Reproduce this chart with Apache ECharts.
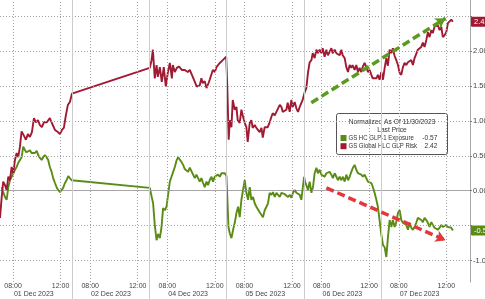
<!DOCTYPE html>
<html><head><meta charset="utf-8">
<script src="https://cdn.jsdelivr.net/npm/echarts@6/dist/echarts.min.js"></script>
<style>html,body{margin:0;padding:0;background:#fff}#c{width:485px;height:299px}</style>
</head><body><div id="c"></div>
<script>
// ---- data (time = trading hours on compressed session axis, 06:30-13:00 per day) ----
const days = ['01 Dec 2023','02 Dec 2023','04 Dec 2023','05 Dec 2023','06 Dec 2023','07 Dec 2023'];
const timeLabels = ['08:00','12:00'];
const yTickValues = [-1,-0.5,0,0.5,1,1.5,2,2.5];
const yLabelValues = [-1,0,0.5,1,1.5,2];
const legendTitle = 'Normalized As Of 11/30/2023';
const legendSub = 'Last Price';
const greenName = 'GS HC GLP-1 Exposure';
const redName = 'GS Global HLC GLP Risk';

const redTime = [
 0.40,0.54,0.67,0.82,0.96,1.10,1.24,1.38,1.52,1.66,
 1.80,1.94,2.08,2.22,2.36,2.50,2.58,2.75,2.92,3.09,
 3.26,3.43,3.60,3.76,3.93,4.10,4.35,4.60,4.77,5.03,
 5.28,5.45,5.62,5.78,5.95,6.12,6.29,6.46,
 13.02,13.17,13.28,13.44,13.59,13.70,13.87,14.03,14.20,14.37,
 14.54,14.71,14.88,14.96,15.13,15.30,15.47,15.72,15.97,16.22,
 16.39,16.64,16.98,17.23,17.37,17.48,17.65,17.80,17.99,18.07,
 18.33,18.50,18.64,18.92,19.17,19.30,19.46,
 19.55,19.67,19.76,19.90,20.01,20.18,20.32,20.43,20.60,20.74,
 20.85,21.02,21.16,21.27,21.44,21.58,21.69,21.86,22.00,22.12,
 22.28,22.43,22.54,22.70,22.85,22.96,23.12,23.27,23.38,23.55,
 23.69,23.80,23.97,24.11,24.22,24.53,24.64,24.81,24.95,25.06,
 25.23,25.37,25.51,25.65,25.79,25.90,
 26.07,26.21,26.35,26.49,26.64,26.75,26.91,27.06,27.19,27.33,
 27.48,27.59,27.75,27.90,28.03,28.17,28.32,28.43,28.60,28.74,
 28.87,29.02,29.16,29.27,29.44,29.58,29.72,29.86,30.00,30.11,
 30.28,30.42,30.56,30.70,30.84,30.95,31.12,31.26,31.40,31.54,
 31.69,31.80,31.96,32.11,32.24,32.38,
 32.53,32.67,32.81,32.95,33.08,33.23,33.37,33.50,33.65,33.79,
 33.93,34.07,34.21,34.35,34.49,34.63,34.77,34.91,35.05,35.19,
 35.33,35.47,35.61,35.75,35.89,36.03,36.17,36.32,36.45,36.59,
 36.74,36.87,37.01,37.16,37.29,37.44,37.58,37.71,37.86,38.00,
 38.14,38.28,38.42,38.56
];
const redValue = [
 -0.39,-0.10,0.13,0.08,0.01,0.20,0.15,0.34,0.25,0.44,
 0.54,0.48,0.63,0.85,0.83,0.76,0.73,0.81,0.77,0.84,
 1.04,0.98,1.01,0.94,0.91,0.98,0.98,1.04,0.97,0.87,
 0.84,0.81,0.87,0.90,1.08,1.23,1.27,1.39,
 1.76,1.87,2.02,1.61,1.80,1.63,1.77,1.56,1.77,1.49,
 1.69,1.83,1.61,1.80,1.70,1.76,1.78,1.73,1.73,1.70,
 1.73,1.63,1.49,1.51,1.61,1.54,1.57,1.47,1.55,1.59,
 1.73,1.70,1.77,1.83,1.87,1.85,1.92,
 1.49,0.73,1.01,0.91,1.30,1.16,1.20,1.01,0.97,1.16,
 1.08,0.97,0.91,0.70,0.97,1.01,0.90,0.94,0.90,0.91,
 0.84,0.90,0.76,0.91,0.90,0.91,0.98,1.06,1.11,1.08,
 1.13,1.11,1.23,1.20,1.13,1.16,1.26,1.13,1.30,1.20,
 1.27,1.18,1.13,1.20,1.20,1.30,
 1.41,1.47,1.69,1.84,1.87,1.97,1.90,2.02,1.97,2.02,
 1.97,2.04,1.92,2.02,1.94,1.99,2.04,1.97,2.02,1.97,
 1.99,1.94,2.02,1.94,1.90,1.77,1.70,1.80,1.76,1.80,
 1.73,1.80,1.70,1.76,1.70,1.77,1.83,1.77,1.70,1.73,
 1.66,1.61,1.63,1.61,1.66,1.59,
 1.70,1.59,1.76,1.90,1.79,2.02,1.97,2.04,1.93,1.87,
 1.80,1.69,1.66,1.77,1.83,1.80,1.84,1.83,1.87,1.80,
 1.90,1.92,2.02,2.04,2.06,2.12,2.06,2.16,2.27,2.20,
 2.30,2.26,2.35,2.33,2.37,2.30,2.35,2.20,2.23,2.27,
 2.40,2.42,2.45,2.42
];
const greenTime = [
 0.54,0.67,0.82,0.96,1.10,1.24,1.38,1.52,1.66,1.80,
 1.94,2.08,2.22,2.36,2.50,2.64,2.78,2.92,3.06,3.20,
 3.34,3.49,3.62,3.76,3.91,4.04,4.18,4.33,4.46,4.60,
 4.75,4.88,5.03,5.17,5.30,5.45,5.59,5.72,5.87,6.01,
 6.15,6.29,6.43,
 13.02,13.17,13.30,13.44,13.59,13.72,13.87,14.01,14.14,14.29,
 14.43,14.56,14.71,14.85,14.99,15.13,15.27,15.41,15.55,15.69,
 15.83,15.97,16.11,16.25,16.39,16.53,16.67,16.81,16.95,17.09,
 17.23,17.37,17.51,17.65,17.80,17.93,18.07,18.22,18.35,18.49,
 18.64,18.77,18.92,19.06,19.19,19.34,19.48,
 19.56,19.65,19.76,19.90,20.04,20.18,20.32,20.46,20.60,20.74,
 20.88,21.02,21.16,21.30,21.44,21.58,21.72,21.86,22.00,22.14,
 22.28,22.43,22.56,22.70,22.85,22.98,23.12,23.27,23.40,23.55,
 23.69,23.82,23.97,24.11,24.25,24.39,24.53,24.67,24.81,24.95,
 25.09,25.23,25.37,25.51,25.65,25.79,
 26.02,26.10,26.21,26.35,26.49,26.64,26.77,26.91,27.06,27.19,
 27.33,27.48,27.61,27.75,27.90,28.03,28.17,28.32,28.45,28.60,
 28.74,28.87,29.02,29.16,29.29,29.44,29.58,29.72,29.86,30.00,
 30.14,30.28,30.42,30.56,30.70,30.84,30.98,31.12,31.26,31.40,
 31.54,31.69,31.82,31.96,32.11,32.24,32.38,
 32.53,32.67,32.81,32.95,33.08,33.23,33.37,33.50,33.65,33.79,
 33.93,34.07,34.21,34.35,34.49,34.63,34.77,34.91,35.05,35.19,
 35.33,35.47,35.61,35.75,35.89,36.03,36.17,36.32,36.45,36.59,
 36.74,36.87,37.01,37.16,37.29,37.44,37.58,37.71,37.86,38.00,
 38.14,38.28,38.42,38.56
];
const greenValue = [
 0.05,-0.02,-0.09,-0.13,0.05,0.15,0.13,0.25,0.30,0.34,
 0.40,0.44,0.48,0.63,0.58,0.55,0.54,0.58,0.54,0.55,
 0.54,0.57,0.51,0.47,0.44,0.48,0.51,0.48,0.44,0.34,
 0.27,0.18,0.11,0.05,0.01,-0.02,-0.03,0.04,0.11,0.15,
 0.21,0.20,0.15,
 0.04,-0.08,-0.18,-0.49,-0.71,-0.62,-0.68,-0.52,-0.25,-0.28,
 -0.23,-0.06,0.13,0.20,0.27,0.34,0.43,0.48,0.47,0.41,
 0.37,0.31,0.33,0.27,0.33,0.28,0.27,0.18,0.23,0.25,
 0.13,0.18,0.11,0.05,0.13,0.08,0.15,0.20,0.13,0.20,
 0.18,0.23,0.20,0.25,0.23,0.25,0.21,
 -0.13,-0.52,-0.61,-0.68,-0.56,-0.46,-0.32,-0.23,-0.38,-0.13,
 0.01,0.15,-0.03,-0.13,0.05,-0.13,-0.09,-0.18,-0.23,-0.25,
 -0.31,-0.32,-0.38,-0.28,-0.23,-0.18,-0.03,-0.06,-0.02,-0.09,
 -0.03,-0.02,-0.09,-0.03,-0.02,-0.05,-0.03,-0.09,-0.06,-0.10,
 -0.03,0.01,-0.03,-0.02,-0.06,-0.13,
 0.20,0.13,0.08,0.01,0.13,-0.03,0.05,0.25,0.33,0.25,
 0.30,0.23,0.25,0.20,0.25,0.23,0.27,0.23,0.18,0.25,
 0.20,0.15,0.20,0.15,0.20,0.13,0.23,0.15,0.20,0.27,
 0.33,0.37,0.30,0.25,0.27,0.23,0.20,0.23,0.18,0.13,
 0.15,0.11,0.05,-0.03,-0.13,-0.23,-0.42,
 -0.63,-0.78,-0.81,-0.95,-0.68,-0.42,-0.52,-0.42,-0.52,-0.45,
 -0.32,-0.28,-0.42,-0.46,-0.45,-0.49,-0.56,-0.46,-0.53,-0.56,
 -0.52,-0.46,-0.39,-0.38,-0.42,-0.45,-0.39,-0.42,-0.46,-0.52,
 -0.45,-0.49,-0.53,-0.52,-0.56,-0.53,-0.49,-0.52,-0.53,-0.49,
 -0.52,-0.52,-0.53,-0.57
];
// trend arrows (annotation), [time, value]
const greenTrendStart = [26.63, 1.26];
const greenTrendEnd = [37.94, 2.47];
const redTrendStart = [27.90, 0.04];
const redTrendEnd = [37.94, -0.71];

// ---- helpers ----
const openHour = 6.5, sessionLen = 6.5;
const pad = n => String(n).padStart(2,'0');
const toAxis = (dayIdx, hhmm) => { const [h,m] = hhmm.split(':').map(Number); return dayIdx*sessionLen + h + m/60 - openHour; };
const timeTickVals = days.flatMap((d,i) => timeLabels.map(s => toAxis(i,s)));
const dayBounds = days.slice(1).map((d,i) => (i+1)*sessionLen);
const dayMids = days.map((d,i) => i*sessionLen + sessionLen/2);
const fmtTime = v => { const di = Math.floor(v/sessionLen + 1e-9); const local = v - di*sessionLen + openHour; const h = Math.floor(local + 1e-6); const m = Math.round((local-h)*60); return pad(h)+':'+pad(m); };
const fmtDay = v => days[Math.round((v - sessionLen/2)/sessionLen)] || '';
const zip = (a,b) => a.map((t,i) => [t, b[i]]);

const RED = '#a11a33', GREEN = '#5a8c15';
const RED_ARROW = '#e2383b', GREEN_ARROW = '#5c9a1f';
const FONT = 'Liberation Sans, Arial, sans-serif';
const redLast = redValue[redValue.length-1];
const greenLast = greenValue[greenValue.length-1];

const chart = echarts.init(document.getElementById('c'), null, {renderer:'canvas'});
const tagLabel = (bg) => ({show:true, position:'end', distance:1, formatter: p => Number(p.value).toFixed(2),
  backgroundColor:bg, color:'#fff', padding:[1,3,1,3], fontSize:7.5, fontFamily:FONT, borderRadius:1});
const HIDDEN = {color:'rgba(0,0,0,0)', width:0};
const DOT = {color:'#a0a0a0', type:[1,2], width:1, opacity:1};
const SOLID = {color:'#cccccc', type:'solid', width:1, opacity:1};

const gridLines = [
  ...yTickValues.map(v => ({yAxis:v, lineStyle:DOT})),
  ...timeTickVals.map(v => ({xAxis:v, lineStyle:DOT})),
  ...dayBounds.map(v => ({xAxis:v, lineStyle:SOLID}))
];
const legendText = (text, x, y, align, sx) => ({type:'text', x, y, scaleX:sx, scaleY:1,
  style:{text, fill:'#333', font:'7px '+FONT, align, verticalAlign:'middle'}});

chart.setOption({
  animation:false,
  backgroundColor:'#fff',
  textStyle:{fontFamily:FONT},
  grid:{left:0, right:15, top:0, bottom:17, containLabel:false, outerBoundsMode:'none'},
  xAxis:[{
    type:'value', min:0.4, max:40, position:'bottom',
    axisLine:{show:true, lineStyle:{color:'#a8a8a8', width:1}},
    axisTick:{show:false},
    axisLabel:{customValues: timeTickVals, formatter: fmtTime, fontSize:7, color:'#444', margin:1, fontFamily:FONT},
    splitLine:{show:false}
  },{
    type:'value', min:0.4, max:40, position:'bottom',
    axisLine:{show:false},
    axisTick:{show:true, customValues: dayBounds, length:17, lineStyle:{color:'#cccccc', width:1}},
    axisLabel:{customValues: dayMids, formatter: fmtDay, fontSize:7, color:'#444', margin:9, fontFamily:FONT},
    splitLine:{show:false}
  }],
  yAxis:{
    type:'value', position:'right', min:-1.308, max:2.732,
    axisLine:{show:true, lineStyle:{color:'#a8a8a8'}},
    axisTick:{show:true, customValues: yTickValues, length:2, lineStyle:{color:'#777'}},
    axisLabel:{customValues: yLabelValues, formatter: v => v.toFixed(2), fontSize:7.5, color:'#444', margin:3, fontFamily:FONT},
    splitLine:{show:false}
  },
  series:[{
    name:'grid', type:'line', data:[[redTime[0], redValue[0]]], symbol:'none', showSymbol:false,
    lineStyle:{color:'#a0a0a0', width:1}, itemStyle:{color:'#a0a0a0'}, z:1, silent:true,
    markLine:{silent:true, symbol:['none','none'], animation:false, label:{show:false}, lineStyle:DOT, data: gridLines}
  },{
    name: greenName, type:'line', data: zip(greenTime, greenValue), showSymbol:false, symbol:'none',
    lineStyle:{color:GREEN, width:1.9}, itemStyle:{color:GREEN}, z:3,
    markLine:{silent:true, symbol:['none','none'], animation:false, data:[
      {yAxis: greenLast, lineStyle:HIDDEN, label: tagLabel(GREEN)},
      [{coord: greenTrendStart, symbol:'none', lineStyle:{color:GREEN_ARROW, width:3.5, type:[8,4]}, label:{show:false}},
       {coord: greenTrendEnd, symbol:'arrow', symbolSize:[9,10]}]
    ]}
  },{
    name: redName, type:'line', data: zip(redTime, redValue), showSymbol:false, symbol:'none',
    lineStyle:{color:RED, width:1.9}, itemStyle:{color:RED}, z:4,
    markLine:{silent:true, symbol:['none','none'], animation:false, data:[
      {yAxis: redLast, lineStyle:HIDDEN, label: tagLabel(RED)},
      [{coord: redTrendStart, symbol:'none', lineStyle:{color:RED_ARROW, width:3.5, type:[8,4]}, label:{show:false}},
       {coord: redTrendEnd, symbol:'arrow', symbolSize:[9,10]}]
    ]}
  }],
  graphic:[{
    type:'group', left:336, top:113, z:100,
    children:[
      {type:'rect', shape:{x:0,y:0,width:111,height:41,r:2}, style:{fill:'rgba(255,255,255,0.95)', stroke:'#555', lineWidth:1}},
      legendText(legendTitle, 55.5, 8.7, 'center', 0.95),
      legendText(legendSub, 55.5, 16.5, 'center', 0.95),
      {type:'rect', shape:{x:4,y:21.5,width:6,height:6}, style:{fill:GREEN}},
      legendText(greenName, 12, 24.5, 'left', 0.86),
      legendText(greenLast.toFixed(2), 101, 24.5, 'right', 0.95),
      {type:'rect', shape:{x:4,y:29.7,width:6,height:6}, style:{fill:RED}},
      legendText(redName, 12, 32.7, 'left', 0.86),
      legendText(redLast.toFixed(2), 101, 32.7, 'right', 0.95)
    ]
  }]
});
</script>
</body></html>
